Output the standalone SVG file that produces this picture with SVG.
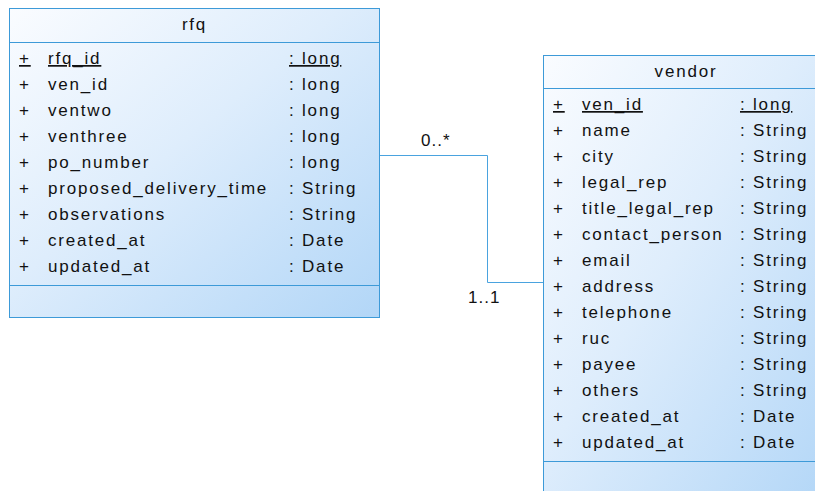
<svg xmlns="http://www.w3.org/2000/svg" width="815" height="491" viewBox="0 0 815 491">
  <defs>
    <linearGradient id="classFill" x1="0" y1="0" x2="1" y2="1">
      <stop offset="0" stop-color="#fafcff"/>
      <stop offset="0.45" stop-color="#deedfc"/>
      <stop offset="1" stop-color="#b2d6f7"/>
    </linearGradient>
    <style>
      .box { fill: url(#classFill); stroke: #3d9ad8; stroke-width: 1; }
      .sep { stroke: #3d9ad8; stroke-width: 1; fill: none; }
      .wire { stroke: #4aa3df; stroke-width: 1; fill: none; }
      text { font-family: "Liberation Sans", Arial, sans-serif; font-size: 17px; fill: #111; letter-spacing: 1.8px; }
      .title { text-anchor: middle; }
      .pk { text-decoration: underline; }
      .mult { letter-spacing: 1px; }
    </style>
  </defs>

  <!-- association between rfq and vendor -->
  <g id="connectors">
    <polyline class="wire" points="380,155.5 487.5,155.5 487.5,282.5 543,282.5"/>
    <text class="mult" x="421" y="146">0..*</text>
    <text class="mult" x="468" y="303">1..1</text>
  </g>

  <!-- class rfq -->
  <g id="rfq">
    <rect class="box" x="9.5" y="8.5" width="370" height="309"/>
    <line class="sep" x1="9.5" y1="42.5" x2="379.5" y2="42.5"/>
    <line class="sep" x1="9.5" y1="285.5" x2="379.5" y2="285.5"/>
    <text class="title" x="194.5" y="30">rfq</text>
    <g>
      <text class="pk" x="19" y="64">+</text><text class="pk" x="48" y="64">rfq_id</text><text class="pk" x="289" y="64">: long</text>
      <text x="19" y="90">+</text><text x="48" y="90">ven_id</text><text x="289" y="90">: long</text>
      <text x="19" y="116">+</text><text x="48" y="116">ventwo</text><text x="289" y="116">: long</text>
      <text x="19" y="142">+</text><text x="48" y="142">venthree</text><text x="289" y="142">: long</text>
      <text x="19" y="168">+</text><text x="48" y="168">po_number</text><text x="289" y="168">: long</text>
      <text x="19" y="194">+</text><text x="48" y="194">proposed_delivery_time</text><text x="289" y="194">: String</text>
      <text x="19" y="220">+</text><text x="48" y="220">observations</text><text x="289" y="220">: String</text>
      <text x="19" y="246">+</text><text x="48" y="246">created_at</text><text x="289" y="246">: Date</text>
      <text x="19" y="272">+</text><text x="48" y="272">updated_at</text><text x="289" y="272">: Date</text>
    </g>
  </g>

  <!-- class vendor -->
  <g id="vendor">
    <rect class="box" x="543.5" y="55.5" width="286" height="450"/>
    <line class="sep" x1="543.5" y1="88.5" x2="829.5" y2="88.5"/>
    <line class="sep" x1="543.5" y1="461.5" x2="829.5" y2="461.5"/>
    <text class="title" x="686" y="77">vendor</text>
    <g>
      <text class="pk" x="553" y="110">+</text><text class="pk" x="582" y="110">ven_id</text><text class="pk" x="740" y="110">: long</text>
      <text x="553" y="136">+</text><text x="582" y="136">name</text><text x="740" y="136">: String</text>
      <text x="553" y="162">+</text><text x="582" y="162">city</text><text x="740" y="162">: String</text>
      <text x="553" y="188">+</text><text x="582" y="188">legal_rep</text><text x="740" y="188">: String</text>
      <text x="553" y="214">+</text><text x="582" y="214">title_legal_rep</text><text x="740" y="214">: String</text>
      <text x="553" y="240">+</text><text x="582" y="240">contact_person</text><text x="740" y="240">: String</text>
      <text x="553" y="266">+</text><text x="582" y="266">email</text><text x="740" y="266">: String</text>
      <text x="553" y="292">+</text><text x="582" y="292">address</text><text x="740" y="292">: String</text>
      <text x="553" y="318">+</text><text x="582" y="318">telephone</text><text x="740" y="318">: String</text>
      <text x="553" y="344">+</text><text x="582" y="344">ruc</text><text x="740" y="344">: String</text>
      <text x="553" y="370">+</text><text x="582" y="370">payee</text><text x="740" y="370">: String</text>
      <text x="553" y="396">+</text><text x="582" y="396">others</text><text x="740" y="396">: String</text>
      <text x="553" y="422">+</text><text x="582" y="422">created_at</text><text x="740" y="422">: Date</text>
      <text x="553" y="448">+</text><text x="582" y="448">updated_at</text><text x="740" y="448">: Date</text>
    </g>
  </g>
</svg>
